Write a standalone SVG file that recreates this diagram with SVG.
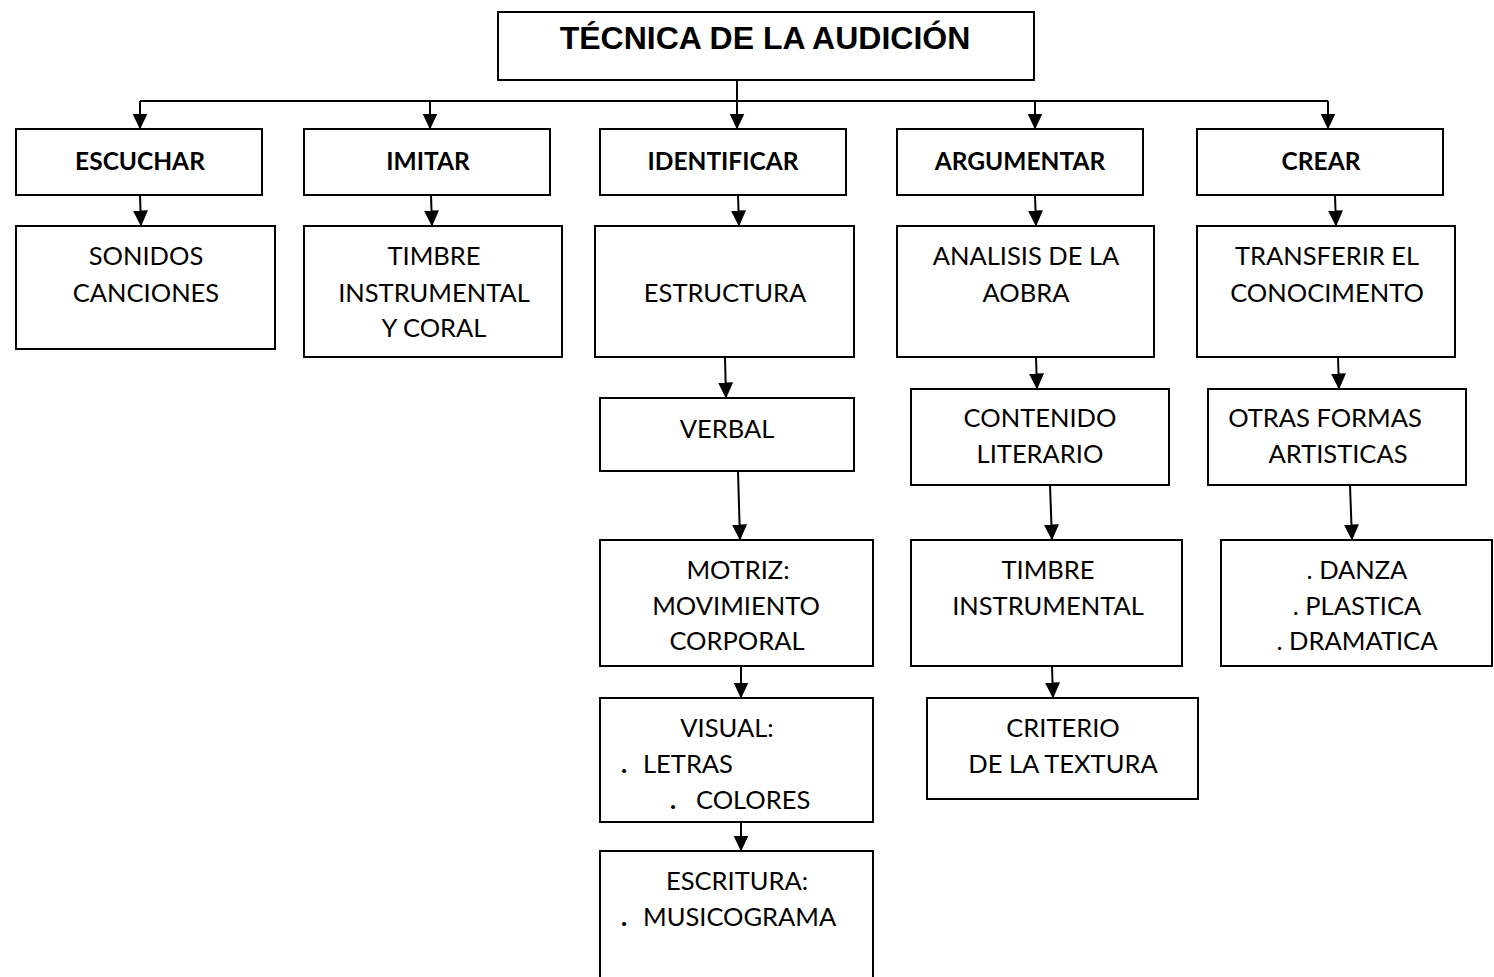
<svg xmlns="http://www.w3.org/2000/svg" width="1494" height="977" viewBox="0 0 1494 977">
<style>
rect{fill:#fff;stroke:#000;stroke-width:2}
text{font-family:Lato,"Open Sans",sans-serif;font-size:25.5px;fill:#000;text-anchor:middle}
.b{font-weight:bold;font-size:24.5px}
.t{font-family:"Liberation Sans",Arial,sans-serif;font-size:32px;font-weight:bold}
.l{text-anchor:start}
.d{font-weight:900}
#conn path{fill:none;stroke:#000;stroke-width:2}
</style>
<defs>
<marker id="a" markerUnits="userSpaceOnUse" markerWidth="16" markerHeight="16" refX="15.5" refY="7.5" orient="auto" viewBox="0 0 16 15">
<path d="M0,0 L16,7.5 L0,15 Z" fill="#000"/>
</marker>
</defs>
<g id="conn">
<path d="M737,80 V101 M140,101 H1328"/>
<path d="M140,101 V129" marker-end="url(#a)"/>
<path d="M430,101 V129" marker-end="url(#a)"/>
<path d="M737,101 V129" marker-end="url(#a)"/>
<path d="M1035,101 V129" marker-end="url(#a)"/>
<path d="M1328,101 V129" marker-end="url(#a)"/>
<path d="M140,195 L141,226" marker-end="url(#a)"/>
<path d="M431,195 L432,226" marker-end="url(#a)"/>
<path d="M738,195 L739,226" marker-end="url(#a)"/>
<path d="M1035,195 L1036,226" marker-end="url(#a)"/>
<path d="M1335,195 L1336,226" marker-end="url(#a)"/>
<path d="M725,357 L726,398" marker-end="url(#a)"/>
<path d="M1036,357 L1037,389" marker-end="url(#a)"/>
<path d="M1338,357 L1339,389" marker-end="url(#a)"/>
<path d="M738,471 L740,540" marker-end="url(#a)"/>
<path d="M1050,485 L1052,540" marker-end="url(#a)"/>
<path d="M1350,485 L1352,540" marker-end="url(#a)"/>
<path d="M741,666 V698" marker-end="url(#a)"/>
<path d="M1052,666 L1053,698" marker-end="url(#a)"/>
<path d="M741,822 V851" marker-end="url(#a)"/>
</g>
<g id="n-title"><rect x="498" y="12" width="536" height="68"/><text class="t" x="765" y="49">TÉCNICA DE LA AUDICIÓN</text></g>
<g id="n-escuchar"><rect x="16" y="129" width="246" height="66"/><text class="b" x="140" y="170">ESCUCHAR</text></g>
<g id="n-imitar"><rect x="304" y="129" width="246" height="66"/><text class="b" x="428" y="170">IMITAR</text></g>
<g id="n-identificar"><rect x="600" y="129" width="246" height="66"/><text class="b" x="723" y="170">IDENTIFICAR</text></g>
<g id="n-argumentar"><rect x="897" y="129" width="246" height="66"/><text class="b" x="1020" y="170">ARGUMENTAR</text></g>
<g id="n-crear"><rect x="1197" y="129" width="246" height="66"/><text class="b" x="1321" y="170">CREAR</text></g>
<g id="n-sonidos"><rect x="16" y="226" width="259" height="123"/><text x="146" y="265">SONIDOS</text><text x="146" y="302">CANCIONES</text></g>
<g id="n-timbre1"><rect x="304" y="226" width="258" height="131"/><text x="434" y="265">TIMBRE</text><text x="434" y="302">INSTRUMENTAL</text><text x="434" y="337">Y CORAL</text></g>
<g id="n-estructura"><rect x="595" y="226" width="259" height="131"/><text x="725" y="302">ESTRUCTURA</text></g>
<g id="n-analisis"><rect x="897" y="226" width="257" height="131"/><text x="1026" y="265">ANALISIS DE LA</text><text x="1026" y="302">AOBRA</text></g>
<g id="n-transferir"><rect x="1197" y="226" width="258" height="131"/><text x="1327" y="265">TRANSFERIR EL</text><text x="1327" y="302">CONOCIMENTO</text></g>
<g id="n-verbal"><rect x="600" y="398" width="254" height="73"/><text x="727" y="438">VERBAL</text></g>
<g id="n-contenido"><rect x="911" y="389" width="258" height="96"/><text x="1040" y="427">CONTENIDO</text><text x="1040" y="463">LITERARIO</text></g>
<g id="n-otras"><rect x="1208" y="389" width="258" height="96"/><text x="1325" y="427">OTRAS FORMAS</text><text x="1338" y="463">ARTISTICAS</text></g>
<g id="n-motriz"><rect x="600" y="540" width="273" height="126"/><text x="738" y="579">MOTRIZ:</text><text x="736" y="615">MOVIMIENTO</text><text x="737" y="650">CORPORAL</text></g>
<g id="n-timbre2"><rect x="911" y="540" width="271" height="126"/><text x="1048" y="579">TIMBRE</text><text x="1048" y="615">INSTRUMENTAL</text></g>
<g id="n-danza"><rect x="1221" y="540" width="271" height="126"/><text x="1357" y="579">. DANZA</text><text x="1357" y="615">. PLASTICA</text><text x="1357" y="650">. DRAMATICA</text></g>
<g id="n-visual"><rect x="600" y="698" width="273" height="124"/><text x="727" y="737">VISUAL:</text><text class="l" y="773"><tspan class="d" x="621">.</tspan><tspan x="643">LETRAS</tspan></text><text class="l" y="809"><tspan class="d" x="670">.</tspan><tspan x="696">COLORES</tspan></text></g>
<g id="n-criterio"><rect x="927" y="698" width="271" height="101"/><text x="1063" y="737">CRITERIO</text><text x="1063" y="773">DE LA TEXTURA</text></g>
<g id="n-escritura"><rect x="600" y="851" width="273" height="136"/><text x="737" y="890">ESCRITURA:</text><text class="l" y="926"><tspan class="d" x="621">.</tspan><tspan x="643">MUSICOGRAMA</tspan></text></g>
</svg>
